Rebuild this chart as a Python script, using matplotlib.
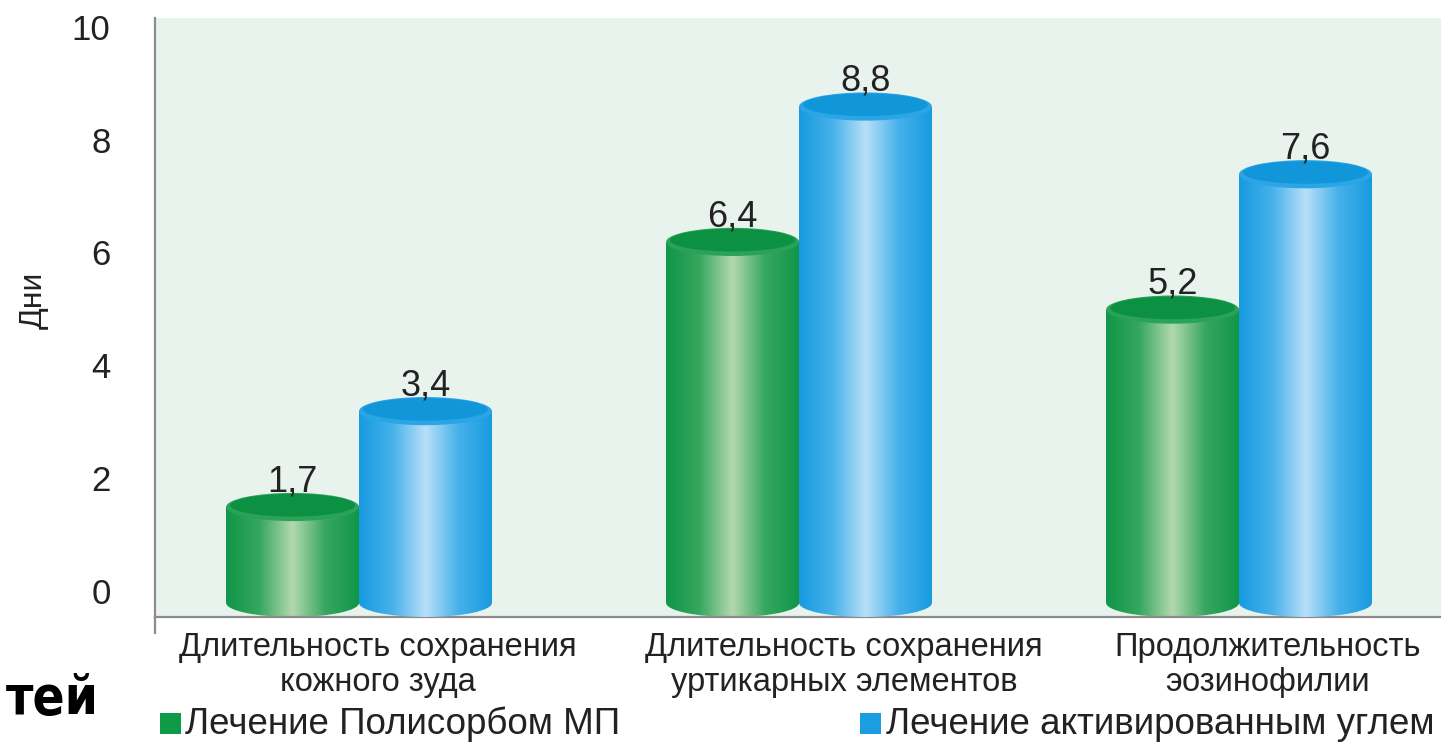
import matplotlib
matplotlib.use('Agg')
import matplotlib.pyplot as plt
import matplotlib.transforms as mtransforms
from matplotlib import font_manager
from matplotlib.patches import Ellipse, Rectangle
from matplotlib.colors import LinearSegmentedColormap
from matplotlib.lines import Line2D
import numpy as np

# Chart data
categories = ['Длительность сохранения\nкожного зуда',
              'Длительность сохранения\nуртикарных элементов',
              'Продолжительность\nэозинофилии']
polysorb = [1.7, 6.4, 5.2]
coal = [3.4, 8.8, 7.6]
series_names = ['Лечение Полисорбом МП', 'Лечение активированным углем']
value_labels_green = ['1,7', '6,4', '5,2']
value_labels_blue = ['3,4', '8,8', '7,6']
y_ticks = [0, 2, 4, 6, 8, 10]

plt.rcParams['font.family'] = ['Liberation Sans', 'DejaVu Sans']

fig = plt.figure(figsize=(14.41, 7.43), dpi=100)
fig.patch.set_facecolor('white')
ax = fig.add_axes([0.1076, 0.1696, 0.8924, 0.8062])
ax.set_facecolor('#e9f3ed')

x = np.arange(len(categories))
width = 0.302
ell_h = 0.5

green_cmap = LinearSegmentedColormap.from_list(
    'g', ['#10964a', '#36a75e', '#b2d9b0', '#36a75e', '#10964a'])
blue_cmap = LinearSegmentedColormap.from_list(
    'b', ['#179be0', '#46b1ea', '#b8e0f8', '#46b1ea', '#179be0'])
grad = np.linspace(0, 1, 256).reshape(1, -1)


def cylinder(xc, h, cmap, top_color, rim_color, z):
    # body with gradient, clipped to rectangle + bottom ellipse
    x0, x1 = xc - width / 2, xc + width / 2
    rect = Rectangle((x0, 0), width, h, transform=ax.transData,
                     facecolor='none', edgecolor='none')
    ax.add_patch(rect)
    im = ax.imshow(grad, cmap=cmap, extent=[x0, x1, 0, h], aspect='auto',
                   interpolation='bicubic', zorder=z)
    im.set_clip_path(rect)
    bot = Ellipse((xc, 0), width, ell_h, facecolor='none', edgecolor='none')
    ax.add_patch(bot)
    im2 = ax.imshow(grad, cmap=cmap, extent=[x0, x1, -ell_h / 2, 0],
                    aspect='auto', interpolation='bicubic', zorder=z)
    im2.set_clip_path(bot)
    # top face
    ax.add_patch(Ellipse((xc, h), width, ell_h, facecolor=rim_color,
                         edgecolor='none', zorder=z + 0.1))
    ax.add_patch(Ellipse((xc, h + 0.03), width * 0.94, ell_h * 0.8,
                         facecolor=top_color, edgecolor='none', zorder=z + 0.2))


for i in range(len(categories)):
    cylinder(x[i] - width / 2, polysorb[i], green_cmap, '#0b9141', '#2aa257', 2)
    cylinder(x[i] + width / 2, coal[i], blue_cmap, '#1296da', '#2aa6e6', 3)
    ax.text(x[i] - width / 2, polysorb[i] + 0.28, value_labels_green[i],
            ha='center', va='baseline', fontsize=26, color='#222222', zorder=5)
    ax.text(x[i] + width / 2, coal[i] + 0.28, value_labels_blue[i],
            ha='center', va='baseline', fontsize=26, color='#222222', zorder=5)

ax.set_xlim(-0.4636, 2.459)
ax.set_ylim(-0.25, 10.37)

# axes styling
for s in ['top', 'right']:
    ax.spines[s].set_visible(False)
for s in ['left', 'bottom']:
    ax.spines[s].set_color('#8c8c8c')
    ax.spines[s].set_linewidth(1.6)
ax.add_line(Line2D([0, 0], [-0.026, 0], transform=ax.transAxes,
                   color='#8c8c8c', lw=1.6, clip_on=False))

ax.set_xticks([])
ax.set_yticks(y_ticks)
ax.set_yticklabels([str(t) for t in y_ticks], fontsize=25, color='#222222')
ax.tick_params(axis='y', length=0, pad=32)
off = mtransforms.ScaledTranslation(0, 0.12, fig.dpi_scale_trans)
for lab in ax.get_yticklabels():
    lab.set_transform(lab.get_transform() + off)

ax.set_ylabel('Дни', fontsize=23, color='#222222')
ax.yaxis.set_label_coords(-0.083, 0.529)

# category labels
label_shift = [0.043, 0.102, 0.064]
trans = mtransforms.blended_transform_factory(ax.transData, ax.transAxes)
for i, cat in enumerate(categories):
    ax.text(x[i] + label_shift[i], -0.025, cat, transform=trans, ha='center',
            va='top', fontsize=23.5, color='#222222', linespacing=1.17)

# legend
fig.patches.append(Rectangle((160 / 1441, 1 - 734 / 743), 21 / 1441, 21 / 743,
                             transform=fig.transFigure, facecolor='#0f9a47',
                             edgecolor='none'))
fig.text(185 / 1441, 1 - 724 / 743, series_names[0], fontsize=26.5,
         va='center', ha='left', color='#222222')
fig.patches.append(Rectangle((860 / 1441, 1 - 734 / 743), 21 / 1441, 21 / 743,
                             transform=fig.transFigure, facecolor='#1a9ee0',
                             edgecolor='none'))
fig.text(886 / 1441, 1 - 724 / 743, series_names[1], fontsize=26.5,
         va='center', ha='left', color='#222222')

# cut-off slide title fragment, narrow bold font if one is there
names = {f.name for f in font_manager.fontManager.ttflist}
if 'Liberation Sans Narrow' in names:
    frag_font = dict(family='Liberation Sans Narrow')
else:
    frag_font = dict(family='DejaVu Sans', stretch='condensed')
fig.text(0.004, 1 - 714 / 743, 'тей', fontsize=38, fontweight='bold',
         va='baseline', ha='left', color='black', **frag_font)

fig.savefig('out.png', dpi=100)
